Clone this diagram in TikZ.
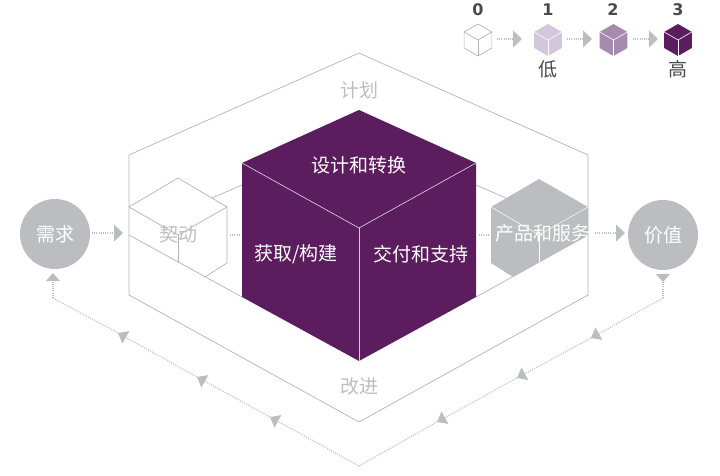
\documentclass[tikz,border=0pt]{standalone}
\usepackage{fontspec}
\setmainfont{Noto Sans CJK SC}
\newfontfamily\numfont{DejaVu Sans}
\usetikzlibrary{arrows.meta,shapes.geometric}
\definecolor{plum}{HTML}{5C1D5E}
\definecolor{plumb}{HTML}{A68BAE}
\definecolor{pluma}{HTML}{D3C6DD}
\definecolor{ash}{HTML}{BCBDC0}
\definecolor{rim}{HTML}{B3B3B5}
\definecolor{ink}{HTML}{4A4A4A}
\tikzstyle{wire} = [draw=rim,line width=0.7pt]
\tikzstyle{dots} = [draw=ash,line width=1.1pt,dash pattern=on 1pt off 1.2pt]
\tikzstyle{bigtip} = [-{Triangle[length=9pt,width=17pt]}]
\tikzstyle{midtip} = [-{Triangle[length=9pt,width=14pt]}]
\tikzstyle{endtip} = [-{Triangle[length=8pt,width=14pt]}]
\tikzstyle{caption} = [inner sep=0pt,font=\fontsize{19}{20}\selectfont]
\tikzstyle{disc} = [circle,fill=ash,minimum size=70pt,inner sep=0pt,text=white,font=\fontsize{19}{20}\selectfont]
\tikzstyle{stage} = [regular polygon,regular polygon sides=6,regular polygon rotate=30,minimum size=32pt,inner sep=0pt]
\tikzstyle{digit} = [inner sep=0pt,text=ink,font=\numfont\bfseries\fontsize{16}{18}\selectfont]
\begin{document}
\begin{tikzpicture}[x=1pt,y=-1pt]
    \useasboundingbox (0,0) rectangle (720,476);
    % Frame and floor behind the cubes
    \path[wire] (359,53) -- (588,155) -- (588,295) -- (359,422) -- (129,295) -- (129,155) -- cycle;
    \path[wire] (129,235) -- (242,297);
    \path[wire] (476,297) -- (588,235);
    \path[wire] (242,185) -- (212,198);
    \path[wire] (476,185) -- (506,198);
    % Small cube on the left
    \path[wire] (129,207) -- (178,178) -- (227,207) -- (227,263) -- (205,277);
    \path[wire] (129,207) -- (178,235) -- (227,207);
    \path[wire] (178,235) -- (178,262);
    % Grey cube on the right
    \fill[ash] (491,207) -- (539,179) -- (588,207) -- (588,235) -- (513,277) -- (491,263) -- cycle;
    \draw[white,line width=0.5pt] (491,207) -- (539,235) -- (588,207);
    \draw[white,line width=0.5pt] (539,235) -- (539,262);
    % Big cube
    \fill[plum] (359,110) -- (476,163) -- (476,297) -- (359,361) -- (242,297) -- (242,163) -- cycle;
    \draw[pluma,line width=0.7pt] (242,163) -- (359,228) -- (476,163);
    \draw[pluma,line width=0.7pt] (359,228) -- (359,361);
    % Labels
    \node[caption,text=ash] (plan) at (359,90) {计划};
    \node[caption,text=ash] (improve) at (359,386) {改进};
    \node[caption,text=ash] (engage) at (178,234) {契动};
    \node[caption,text=white] (design) at (359,165) {设计和转换};
    \node[caption,text=white] (obtain) at (296,254) {获取/构建};
    \node[caption,text=white] (deliver) at (421,254) {交付和支持};
    \node[caption,text=white] (service) at (543,233) {产品和服务};
    \node[disc] (demand) at (55,234) {需求};
    \node[disc] (value) at (663,235) {价值};
    % Points on the dotted lines
    \coordinate (ina) at (92,233);
    \coordinate (inb) at (123,233);
    \coordinate (gapa) at (230,235);
    \coordinate (gapb) at (240,235);
    \coordinate (gapc) at (479,235);
    \coordinate (gapd) at (489,235);
    \coordinate (outa) at (595,233);
    \coordinate (outb) at (625,233);
    \coordinate (vtop) at (663,274);
    \coordinate (vtip) at (663,282);
    \coordinate (rcorner) at (663,298);
    \coordinate (ra) at (591,338);
    \coordinate (rb) at (517,378);
    \coordinate (rc) at (437,422);
    \coordinate (bottom) at (359,466);
    \coordinate (la) at (270,417);
    \coordinate (lb) at (197,377);
    \coordinate (lc) at (118,333);
    \coordinate (lcorner) at (53,298);
    \coordinate (ltip) at (53,273);
    \coordinate (ka) at (497,39);
    \coordinate (kb) at (522,39);
    \coordinate (kc) at (567,39);
    \coordinate (kd) at (592,39);
    \coordinate (ke) at (633,39);
    \coordinate (kf) at (658,39);
    % Dotted lines, plain and with tips
    \foreach \tail/\head in {gapa/gapb, gapc/gapd, rc/bottom, lc/lcorner, vtip/rcorner}
        \path[dots] (\tail) -- (\head);
    \foreach \tail/\head in {ina/inb, outa/outb, ka/kb, kc/kd, ke/kf}
        \path[dots,bigtip] (\tail) -- (\head);
    \foreach \tail/\head in {rcorner/ra, ra/rb, rb/rc, bottom/la, la/lb, lb/lc}
        \path[dots,midtip] (\tail) -- (\head);
    \path[dots,endtip] (lcorner) -- (ltip);
    \path[dots,endtip] (vtop) -- (vtip);
    % Legend
    \node[stage,draw=rim,line width=0.7pt] (none) at (478,40) {};
    \node[stage,fill=pluma] (lowa) at (548,40) {};
    \node[stage,fill=plumb] (lowb) at (613.5,40) {};
    \node[stage,fill=plum] (lowc) at (678,40) {};
    \draw[rim,line width=0.7pt] (none.center) -- +(-13.8,-8);
    \draw[rim,line width=0.7pt] (none.center) -- +(13.8,-8);
    \draw[rim,line width=0.7pt] (none.center) -- +(0,16);
    \foreach \name in {lowa, lowb, lowc}{
        \draw[white,line width=0.6pt] (\name.center) -- +(-13.8,-8);
        \draw[white,line width=0.6pt] (\name.center) -- +(13.8,-8);
        \draw[white,line width=0.6pt] (\name.center) -- +(0,16);
    }
    \node[digit] (zero) at (478,10) {0};
    \node[digit] (one) at (548,10) {1};
    \node[digit] (two) at (613,10) {2};
    \node[digit] (three) at (678,10) {3};
    \node[caption,text=ink] (low) at (548,69) {低};
    \node[caption,text=ink] (high) at (678,69) {高};
\end{tikzpicture}
\end{document}
